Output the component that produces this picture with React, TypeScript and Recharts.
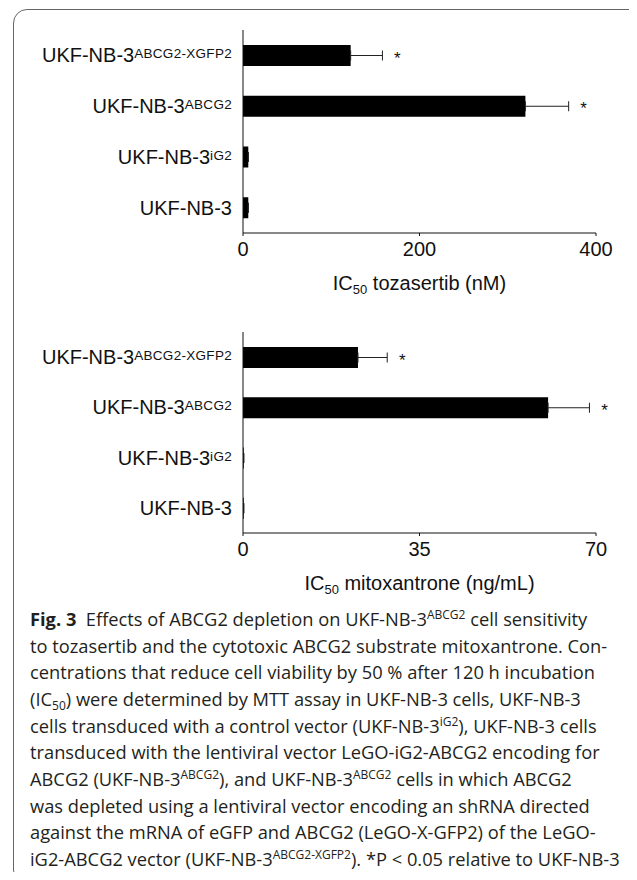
import { BarChart, Bar, XAxis, YAxis, ErrorBar, LabelList } from "recharts"

// cell lines, top to bottom ("^" marks the superscript part)
const cellLines = ["UKF-NB-3^ABCG2-XGFP2", "UKF-NB-3^ABCG2", "UKF-NB-3^iG2", "UKF-NB-3"]

// IC50 tozasertib (nM)
const tozasertib = [122, 320, 6, 6]
const tozasertibErr = [36, 49, 0, 0]
const tozasertibTicks = [0, 200, 400]

// IC50 mitoxantrone (ng/mL)
const mitoxantrone = [22.8, 60.5, 0.15, 0.15]
const mitoxantroneErr = [5.8, 8.2, 0, 0]
const mitoxantroneTicks = [0, 35, 70]

// *P < 0.05 relative to UKF-NB-3
const significance = ["*", "*", "", ""]

const FONT = "'Liberation Sans', Arial, sans-serif"

function CellTick({ x, y, payload }: any) {
  const [base, sup] = String(payload.value).split("^")
  return (
    <text x={x - 11} y={y} dy={7} textAnchor="end" fontFamily={FONT} fontSize={20} fill="#111">
      {base}
      {sup && (
        <tspan fontSize={13.5} dy={-4} letterSpacing={0.3}>
          {sup}
        </tspan>
      )}
    </text>
  )
}

function starLabel(errs: number[]) {
  return (props: any) => {
    const { x, y, width, height, value, index } = props
    if (!significance[index] || !value) return null
    const errEnd = Number(x) + Number(width) + errs[index] * (Number(width) / Number(value))
    return (
      <text x={errEnd + 15} y={Number(y) + Number(height) / 2 + 8} textAnchor="middle" fontFamily={FONT} fontSize={17} fill="#111">
        {significance[index]}
      </text>
    )
  }
}

function axisTitle(drug: string, unit: string) {
  return (props: any) => {
    const vb = props.viewBox
    return (
      <text x={vb.x + vb.width / 2} y={vb.y + 57} textAnchor="middle" fontFamily={FONT} fontSize={20} fill="#111">
        IC
        <tspan fontSize={13} dy={4}>50</tspan>
        <tspan dy={-4}>{` ${drug} (${unit})`}</tspan>
      </text>
    )
  }
}

function Panel({ values, errs, ticks, drug, unit, top }: any) {
  const data = cellLines.map((cell, i) => ({ cell, value: values[i], err: [0, errs[i]] }))
  return (
    <BarChart width={637} height={300} data={data} layout="vertical" margin={{ top, right: 41, bottom: 0, left: 0 }}>
      <XAxis
        type="number"
        dataKey="value"
        domain={[0, ticks[ticks.length - 1]]}
        ticks={ticks}
        height={67}
        tickSize={3}
        tickMargin={6}
        stroke="#111"
        tick={{ fill: "#111", fontSize: 20, fontFamily: FONT }}
        label={{ content: axisTitle(drug, unit) }}
      />
      <YAxis type="category" dataKey="cell" width={243} tickLine={false} tickSize={0} tickMargin={0} stroke="#111" tick={<CellTick />} />
      <Bar dataKey="value" fill="#000" barSize={21} isAnimationActive={false}>
        <ErrorBar dataKey="err" direction="x" width={5} stroke="#222" strokeWidth={1} />
        <LabelList dataKey="value" content={starLabel(errs)} />
      </Bar>
    </BarChart>
  )
}

const sup = { fontSize: 12, lineHeight: 0, position: "relative" as const, top: -7 }
const sub = { fontSize: 12, lineHeight: 0, position: "relative" as const, top: 4 }

export default function App() {
  return (
    <div style={{ position: "relative", width: 637, height: 880, margin: -8, overflow: "hidden", background: "#fff" }}>
      <div
        style={{
          position: "absolute",
          left: 13,
          top: 9,
          width: 630,
          height: 873,
          border: "1.5px solid #666",
          borderRadius: 14,
        }}
      />
      <div style={{ position: "absolute", left: 0, top: 0 }}>
        <Panel values={tozasertib} errs={tozasertibErr} ticks={tozasertibTicks} drug="tozasertib" unit="nM" top={30} />
      </div>
      <div style={{ position: "absolute", left: 0, top: 300 }}>
        <Panel values={mitoxantrone} errs={mitoxantroneErr} ticks={mitoxantroneTicks} drug="mitoxantrone" unit="ng/mL" top={32} />
      </div>
      <div
        style={{
          position: "absolute",
          left: 30,
          top: 606,
          fontFamily: "'Open Sans', sans-serif",
          fontSize: 18.3,
          lineHeight: "26.67px",
          color: "#231f20",
          whiteSpace: "nowrap",
        }}
      >
        <div>
          <b>Fig. 3</b>&nbsp; Effects of ABCG2 depletion on UKF-NB-3<span style={sup}>ABCG2</span> cell sensitivity
        </div>
        <div>to tozasertib and the cytotoxic ABCG2 substrate mitoxantrone. Con-</div>
        <div>centrations that reduce cell viability by 50 % after 120 h incubation</div>
        <div>
          (IC<span style={sub}>50</span>) were determined by MTT assay in UKF-NB-3 cells, UKF-NB-3
        </div>
        <div>
          cells transduced with a control vector (UKF-NB-3<span style={sup}>iG2</span>), UKF-NB-3 cells
        </div>
        <div>transduced with the lentiviral vector LeGO-iG2-ABCG2 encoding for</div>
        <div>
          ABCG2 (UKF-NB-3<span style={sup}>ABCG2</span>), and UKF-NB-3<span style={sup}>ABCG2</span> cells in which ABCG2
        </div>
        <div>was depleted using a lentiviral vector encoding an shRNA directed</div>
        <div>against the mRNA of eGFP and ABCG2 (LeGO-X-GFP2) of the LeGO-</div>
        <div>
          iG2-ABCG2 vector (UKF-NB-3<span style={sup}>ABCG2-XGFP2</span>). *P &lt; 0.05 relative to UKF-NB-3
        </div>
      </div>
    </div>
  )
}
